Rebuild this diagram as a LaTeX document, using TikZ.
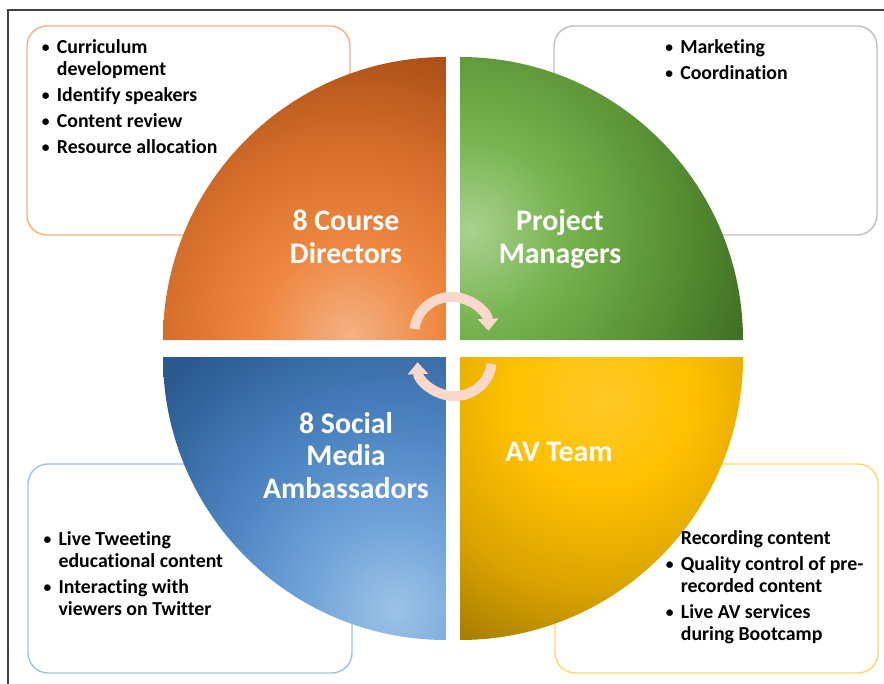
\documentclass[tikz,border=0pt]{standalone}
\usepackage{graphicx}
\usepackage{fontspec}
\setmainfont{Carlito}[Ligatures=NoCommon]
\usetikzlibrary{arrows.meta}

\definecolor{framegray}{HTML}{404040}
\definecolor{cdline}{HTML}{F4B183}
\definecolor{pmline}{HTML}{BFBFBF}
\definecolor{smline}{HTML}{9DC3E6}
\definecolor{avline}{HTML}{FFD966}
\definecolor{arrowpink}{HTML}{F8D8CB}

\definecolor{cdlight}{HTML}{F4B183}
\definecolor{cdmid}{HTML}{EE8740}
\definecolor{cddeep}{HTML}{D46D2A}
\definecolor{cddark}{HTML}{A04810}
\definecolor{pmlight}{HTML}{A9D18E}
\definecolor{pmmid}{HTML}{78B451}
\definecolor{pmdeep}{HTML}{5C9436}
\definecolor{pmdark}{HTML}{38661F}
\definecolor{smlight}{HTML}{9DC3E6}
\definecolor{smmid}{HTML}{6FA2D8}
\definecolor{smdeep}{HTML}{4A82BF}
\definecolor{smdark}{HTML}{2A5A90}
\definecolor{avlight}{HTML}{FFCA28}
\definecolor{avmid}{HTML}{FFC000}
\definecolor{avdeep}{HTML}{D9A300}
\definecolor{avdark}{HTML}{8C6A00}

% 25bp is the rim of the shaded circle
\pgfdeclareradialshading{cdglow}{\pgfpoint{0bp}{0bp}}{color(0bp)=(cdlight); color(6bp)=(cdmid); color(12.6bp)=(cddeep); color(21bp)=(cddark); color(50bp)=(cddark)}
\pgfdeclareradialshading{pmglow}{\pgfpoint{0bp}{0bp}}{color(0bp)=(pmlight); color(6bp)=(pmmid); color(12.6bp)=(pmdeep); color(21bp)=(pmdark); color(50bp)=(pmdark)}
\pgfdeclareradialshading{smglow}{\pgfpoint{0bp}{0bp}}{color(0bp)=(smlight); color(6bp)=(smmid); color(12.6bp)=(smdeep); color(21bp)=(smdark); color(50bp)=(smdark)}
\pgfdeclareradialshading{avglow}{\pgfpoint{0bp}{0bp}}{color(0bp)=(avlight); color(6bp)=(avmid); color(12.6bp)=(avdeep); color(21bp)=(avdark); color(50bp)=(avdark)}

\newcommand{\bul}{\makebox[0.375cm][l]{\raisebox{0.8pt}{\scalebox{0.78}{\textbullet}}}}
\newcommand{\ind}{\hspace*{0.375cm}}
\newcommand{\gap}{\\[3.2pt]}

\begin{document}
\begin{tikzpicture}[scale=1, every node/.style={scale=1},
	infobox/.style={rounded corners=0.5cm, line width=1pt},
	items/.style={font=\fontsize{14.1}{15.3}\selectfont\bfseries, align=left, inner sep=0pt, anchor=base west},
	rolename/.style={font=\fontsize{21.2}{23}\selectfont\bfseries, text=white, align=center, inner sep=0pt, anchor=base},
	turn/.style={line width=0.25cm, draw=arrowpink, -{Triangle[length=0.3cm, width=0.5cm]}}]
\useasboundingbox (0,0) rectangle (22.1,17.075);
\draw [line width=1pt, color=framegray] (0.2,16.825) rectangle (22.6,-0.5);

% boxes sit behind the pie
\draw [infobox, draw=cdline] (0.675,16.425) rectangle (8.75,11.2);
\draw [infobox, draw=pmline] (13.85,16.425) rectangle (21.925,11.2);
\draw [infobox, draw=smline] (0.7,5.475) rectangle (8.8,0.25);
\draw [infobox, draw=avline] (13.875,5.475) rectangle (21.95,0.25);

% the four quarters
\coordinate (center) at (11.325,8.3625);
\coordinate (cd) at (11.15,8.575);
\coordinate (pm) at (11.5,8.575);
\coordinate (sm) at (11.15,8.15);
\coordinate (av) at (11.5,8.15);

\begin{scope}
\clip (cd) -- ++(-7.075,0) arc [radius=7.075, start angle=180, end angle=90] -- cycle;
\shade [shading=cdglow] (8.75,8.7) circle (9.5);
\end{scope}
\begin{scope}
\clip (pm) -- ++(7.075,0) arc [radius=7.075, start angle=0, end angle=90] -- cycle;
\shade [shading=pmglow] (11.75,11.325) circle (9.5);
\end{scope}
\begin{scope}
\clip (sm) -- ++(-7.075,0) arc [radius=7.075, start angle=180, end angle=270] -- cycle;
\shade [shading=smglow] (9.875,1.825) circle (9.5);
\end{scope}
\begin{scope}
\clip (av) -- ++(7.075,0) arc [radius=7.075, start angle=0, end angle=-90] -- cycle;
\shade [shading=avglow] (15,7.075) circle (9.5);
\end{scope}

% task lists, placed by their last line
\node [items] (cdtasks) at (1.04,13.2425) {\bul Curriculum\\ \ind development\gap \bul Identify speakers\gap \bul Content review\gap \bul Resource allocation};
\node [items] (pmtasks) at (16.625,15.075) {\bul Marketing\gap \bul Coordination};
\node [items] (smtasks) at (1.0825,1.7) {\bul Live Tweeting\\ \ind educational content\gap \bul Interacting with\\ \ind viewers on Twitter};
\node [items] (avtasks) at (16.64,1.075) {\ind Recording content\gap \bul Quality control of pre-\\ \ind recorded content\gap \bul Live AV services\\ \ind during Bootcamp};

\node [rolename] (cdname) at (8.65,10.4925) {8 Course\\Directors};
\node [rolename] (pmname) at (14,10.4925) {Project\\Managers};
\node [rolename] (smname) at (8.65,4.6175) {8 Social\\Media\\Ambassadors};
\node [rolename] (avname) at (13.975,5.5325) {AV Team};

% turning arrows round the middle
\coordinate (upturn) at (11.2875,8.775);
\coordinate (downturn) at (11.3625,8.05);
\draw [turn] (upturn) +(175:0.925 and 0.875) arc [x radius=0.925, y radius=0.875, start angle=175, end angle=2];
\draw [turn] (downturn) +(-5:0.925 and 0.875) arc [x radius=0.925, y radius=0.875, start angle=-5, end angle=-178];
\end{tikzpicture}
\end{document}
